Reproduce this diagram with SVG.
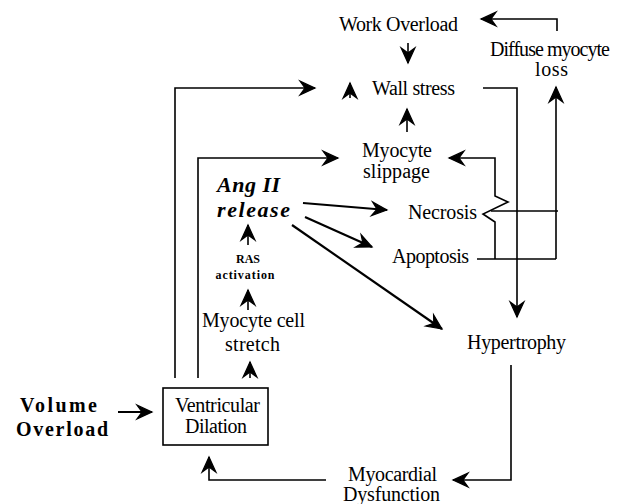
<svg xmlns="http://www.w3.org/2000/svg" width="621" height="504" viewBox="0 0 621 504">
<style>
text{font-family:"Liberation Serif","Times New Roman",serif;font-size:20px;fill:#000}
.b{font-weight:bold}
.bi{font-weight:bold;font-style:italic;font-size:22px}
.s{font-weight:bold;font-size:12px}
.m{text-anchor:middle}
.c line,.c polyline,.c path{fill:none;stroke:#000;stroke-width:1.6;marker-end:url(#ah)}
.c .n{marker-end:none}
.c .t{stroke-width:2.2}
rect{fill:#fff;stroke:#000;stroke-width:1.6}
</style>
<defs>
<marker id="ah" markerUnits="userSpaceOnUse" markerWidth="20" markerHeight="20" viewBox="-14 -8 16 16" refX="0" refY="0" orient="auto">
<path d="M0,0 L-12,-5.5 L-8,0 L-12,5.5 Z" fill="#000" stroke="#000" stroke-width="1" stroke-linejoin="miter"/>
</marker>
</defs>
<g class="c" id="connectors">
<polyline points="557,31 557,19 481,19"/>
<line x1="408" y1="43" x2="408" y2="63"/>
<line x1="350" y1="98" x2="350" y2="83"/>
<line x1="407" y1="132" x2="407" y2="109"/>
<polyline points="175,378 175,88 315,88"/>
<polyline points="198,378 198,158 338,158"/>
<line x1="248" y1="245" x2="248" y2="225"/>
<line x1="248" y1="310" x2="248" y2="290"/>
<line x1="250" y1="378" x2="250" y2="362"/>
<line class="t" x1="118" y1="412" x2="152" y2="412"/>
<polyline points="326,480 209,480 209,457"/>
<polyline points="511,365 511,480 453,480"/>
<polyline points="483,88 517,88 517,317"/>
<line class="n" x1="491" y1="211" x2="558" y2="211"/>
<polyline class="n" points="477,259 556,259"/>
<line x1="556" y1="259" x2="556" y2="87"/>
<polyline points="495,259 495,222 483,214 508,202 495,196 495,158 449,158"/>
<line class="t" x1="303" y1="203" x2="387" y2="210"/>
<line class="t" x1="305" y1="217" x2="372" y2="247"/>
<line class="t" x1="292" y1="225" x2="442" y2="329"/>
</g>
<g id="work-overload"><text x="339" y="31" textLength="119">Work Overload</text></g>
<g id="diffuse-loss"><text x="490" y="56" textLength="120">Diffuse myocyte</text><text x="535" y="76" textLength="33">loss</text></g>
<g id="wall-stress"><text x="372" y="95" textLength="83">Wall stress</text></g>
<g id="myocyte-slippage"><text x="362" y="157" textLength="70">Myocyte</text><text x="363" y="178" textLength="67">slippage</text></g>
<g id="ang-ii"><text class="bi" x="217" y="192" textLength="63">Ang II</text><text class="bi" x="217" y="217" textLength="73">release</text></g>
<g id="ras"><text class="s m" x="248" y="263">RAS</text><text class="s m" x="245" y="279" textLength="59">activation</text></g>
<g id="myocyte-stretch"><text x="202" y="327" textLength="103">Myocyte cell</text><text x="225" y="351" textLength="55">stretch</text></g>
<g id="ventricular-dilation"><rect x="163" y="388" width="105" height="57"/><text x="175" y="412" textLength="85">Ventricular</text><text x="185" y="433" textLength="62">Dilation</text></g>
<g id="volume-overload"><text class="b" x="20" y="412" textLength="77">Volume</text><text class="b" x="16" y="436" textLength="92">Overload</text></g>
<g id="necrosis"><text x="408" y="219" textLength="69">Necrosis</text></g>
<g id="apoptosis"><text x="392" y="263" textLength="77">Apoptosis</text></g>
<g id="hypertrophy"><text x="467" y="349" textLength="99">Hypertrophy</text></g>
<g id="myocardial-dysfunction"><text x="348" y="481" textLength="89">Myocardial</text><text x="343" y="501" textLength="97">Dysfunction</text></g>
</svg>
